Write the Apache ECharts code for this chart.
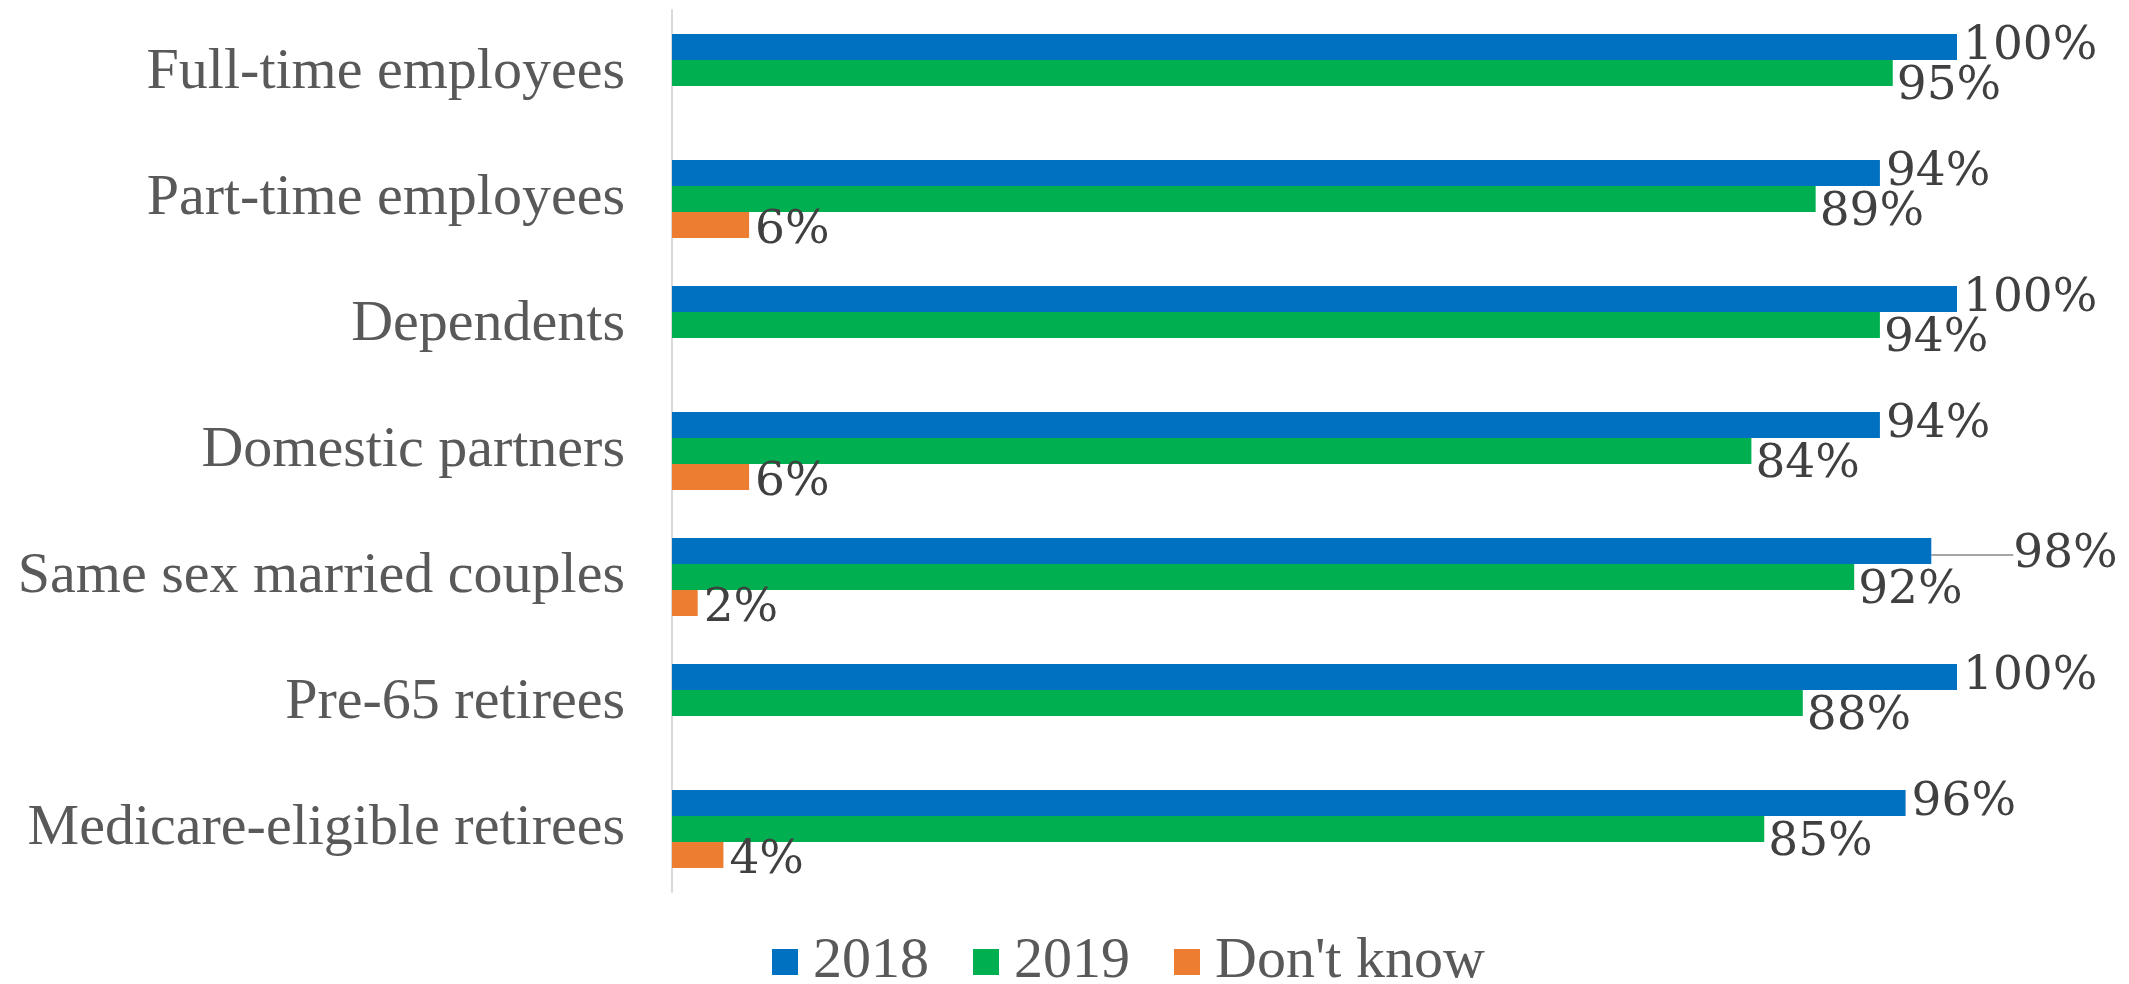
<!DOCTYPE html>
<html>
<head>
<meta charset="utf-8">
<script src="https://cdn.jsdelivr.net/npm/echarts@6/dist/echarts.min.js"></script>
<style>
  html, body { margin: 0; padding: 0; background: #fff; }
  #tuxing { width: 2129px; height: 984px; }
</style>
</head>
<body>
<div id="tuxing"></div>
<script>
// 数据
var categories = ['Full-time employees', 'Part-time employees', 'Dependents', 'Domestic partners',
	'Same sex married couples', 'Pre-65 retirees', 'Medicare-eligible retirees'];
var seriesNames = ['2018', '2019', "Don't know"];
var values2018 = [100, 94, 100, 94, 98, 100, 96];
var values2019 = [95, 89, 94, 84, 92, 88, 85];
var valuesDontKnow = [null, 6, null, 6, 2, null, 4];

var colors = ['#0070C0', '#00B050', '#ED7D31'];

var myChart = echarts.init(document.getElementById('tuxing'));

function makeSeries(name, values, color, offset) {
	return {
		name: name,
		type: 'bar',
		data: values,
		barWidth: 26,
		barGap: '0%',
		itemStyle: { color: color },
		label: {
			show: true,
			position: 'right',
			distance: 6,
			offset: offset,
			formatter: '{c}%',
			fontFamily: 'DejaVu Serif',
			fontSize: 47,
			color: '#404040'
		}
	};
}

var s2018 = makeSeries(seriesNames[0], values2018, colors[0], [4, -10]);
// 98% 的标签被移开, 用引导线连回柱子
s2018.labelLine = { show: true, lineStyle: { color: '#a6a6a6', width: 2 } };
s2018.labelLayout = function(params) {
	if (params.dataIndex === 4) {
		return { dx: 76, dy: 4 };
	}
	return {};
};
// 只有被移开的那一个显示引导线
s2018.data = values2018.map(function(v, i) {
	return i === 4 ? { value: v } : { value: v, labelLine: { show: false } };
});

var option = {
	animation: false,
	backgroundColor: '#ffffff',
	grid: {
		left: 672,
		right: 172,
		top: 10,
		height: 882
	},
	legend: {
		data: seriesNames,
		left: 767,
		top: 928,
		itemWidth: 26,
		itemHeight: 26,
		itemGap: 44,
		icon: 'rect',
		textStyle: {
			fontFamily: 'Liberation Serif',
			fontSize: 58,
			color: '#595959',
			padding: [0, 0, 0, 10]
		}
	},
	xAxis: {
		type: 'value',
		min: 0,
		max: 100,
		show: false,
		splitLine: { show: false }
	},
	yAxis: {
		type: 'category',
		data: categories,
		inverse: true,
		axisLine: { show: true, lineStyle: { color: '#d9d9d9', width: 2 } },
		axisTick: { show: false },
		axisLabel: {
			margin: 47,
			fontFamily: 'Liberation Serif',
			fontSize: 58,
			color: '#595959'
		}
	},
	series: [
		s2018,
		makeSeries(seriesNames[1], values2019, colors[1], [-2, 14]),
		makeSeries(seriesNames[2], valuesDontKnow, colors[2], [0, 6])
	]
};

myChart.setOption(option);
</script>
</body>
</html>
